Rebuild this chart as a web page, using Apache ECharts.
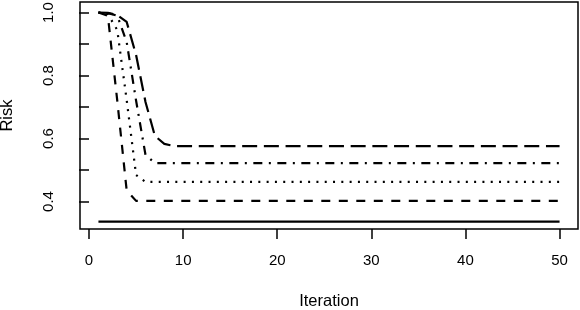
<!DOCTYPE html>
<html><head><meta charset="utf-8">
<script src="https://cdn.jsdelivr.net/npm/echarts@6/dist/echarts.min.js"></script>
<style>html,body{margin:0;padding:0;background:#fff}#c{width:580px;height:310px}</style>
</head><body><div id="c"></div>
<script>
const iterations = [1,2,3,4,5,6,7,8,9,10,11,12,13,14,15,16,17,18,19,20,21,22,23,24,25,26,27,28,29,30,31,32,33,34,35,36,37,38,39,40,41,42,43,44,45,46,47,48,49,50];
const riskSolid = [0.336,0.336,0.336,0.336,0.336,0.336,0.336,0.336,0.336,0.336,0.336,0.336,0.336,0.336,0.336,0.336,0.336,0.336,0.336,0.336,0.336,0.336,0.336,0.336,0.336,0.336,0.336,0.336,0.336,0.336,0.336,0.336,0.336,0.336,0.336,0.336,0.336,0.336,0.336,0.336,0.336,0.336,0.336,0.336,0.336,0.336,0.336,0.336,0.336,0.336];
const riskDashed = [1.0,0.99,0.72,0.435,0.402,0.402,0.402,0.402,0.402,0.402,0.402,0.402,0.402,0.402,0.402,0.402,0.402,0.402,0.402,0.402,0.402,0.402,0.402,0.402,0.402,0.402,0.402,0.402,0.402,0.402,0.402,0.402,0.402,0.402,0.402,0.402,0.402,0.402,0.402,0.402,0.402,0.402,0.402,0.402,0.402,0.402,0.402,0.402,0.402,0.402];
const riskDotted = [1.0,0.995,0.944,0.722,0.484,0.462,0.462,0.462,0.462,0.462,0.462,0.462,0.462,0.462,0.462,0.462,0.462,0.462,0.462,0.462,0.462,0.462,0.462,0.462,0.462,0.462,0.462,0.462,0.462,0.462,0.462,0.462,0.462,0.462,0.462,0.462,0.462,0.462,0.462,0.462,0.462,0.462,0.462,0.462,0.462,0.462,0.462,0.462,0.462,0.462];
const riskDotDash = [1.0,0.998,0.99,0.906,0.72,0.548,0.522,0.522,0.522,0.522,0.522,0.522,0.522,0.522,0.522,0.522,0.522,0.522,0.522,0.522,0.522,0.522,0.522,0.522,0.522,0.522,0.522,0.522,0.522,0.522,0.522,0.522,0.522,0.522,0.522,0.522,0.522,0.522,0.522,0.522,0.522,0.522,0.522,0.522,0.522,0.522,0.522,0.522,0.522,0.522];
const riskLongDash = [1.0,0.999,0.992,0.97,0.865,0.716,0.608,0.583,0.576,0.576,0.576,0.576,0.576,0.576,0.576,0.576,0.576,0.576,0.576,0.576,0.576,0.576,0.576,0.576,0.576,0.576,0.576,0.576,0.576,0.576,0.576,0.576,0.576,0.576,0.576,0.576,0.576,0.576,0.576,0.576,0.576,0.576,0.576,0.576,0.576,0.576,0.576,0.576,0.576,0.576];
const xTicks = [0,10,20,30,40,50];
const yTicks = [0.4,0.5,0.6,0.7,0.8,0.9,1.0];
const yLabels = [0.4,0.6,0.8,1.0];

const FONT = 'Liberation Sans';
function pairs(arr){ return iterations.map((x,i)=>[x, arr[i]]); }
function mk(arr, dash){
  return {type:'line', data:pairs(arr), symbol:'none', animation:false, silent:true,
    lineStyle:{color:'#000', width:2.2, type:dash, cap:'butt', join:'round'}};
}
const chart = echarts.init(document.getElementById('c'), null, {renderer:'canvas'});
chart.setOption({
  backgroundColor:'#fff',
  animation:false,
  grid:{left:80, right:2, top:2, bottom:81, containLabel:false, outerBoundsMode:'none',
    show:true, borderColor:'#000', borderWidth:1.5, backgroundColor:'transparent'},
  xAxis:{type:'value', min:-0.96, max:51.96,
    name:'Iteration', nameLocation:'middle', nameGap:64,
    nameTextStyle:{fontFamily:FONT, fontSize:16.5, color:'#000'},
    axisLine:{show:false},
    axisTick:{show:true, length:10, inside:false, customValues:xTicks, lineStyle:{color:'#000', width:1.5}},
    axisLabel:{show:true, customValues:xTicks, margin:24, fontFamily:FONT, fontSize:15, color:'#000'},
    splitLine:{show:false}},
  yAxis:{type:'value', min:0.3127, max:1.0333,
    name:'Risk', nameLocation:'middle', nameGap:64, nameRotate:90,
    nameTextStyle:{fontFamily:FONT, fontSize:16.5, color:'#000'},
    axisLine:{show:false},
    axisTick:{show:true, length:10, customValues:yTicks, lineStyle:{color:'#000', width:1.5}},
    axisLabel:{show:true, customValues:yLabels, rotate:90, margin:24, fontFamily:FONT, fontSize:15, color:'#000',
      formatter:v=>v.toFixed(1)},
    splitLine:{show:false}},
  series:[
    mk(riskSolid, 'solid'),
    mk(riskDashed, [9,8.5]),
    mk(riskDotted, [2,6.3]),
    mk(riskDotDash, [2,6.5,9,6.5]),
    mk(riskLongDash, [15,6.7])
  ]
});
</script></body></html>
